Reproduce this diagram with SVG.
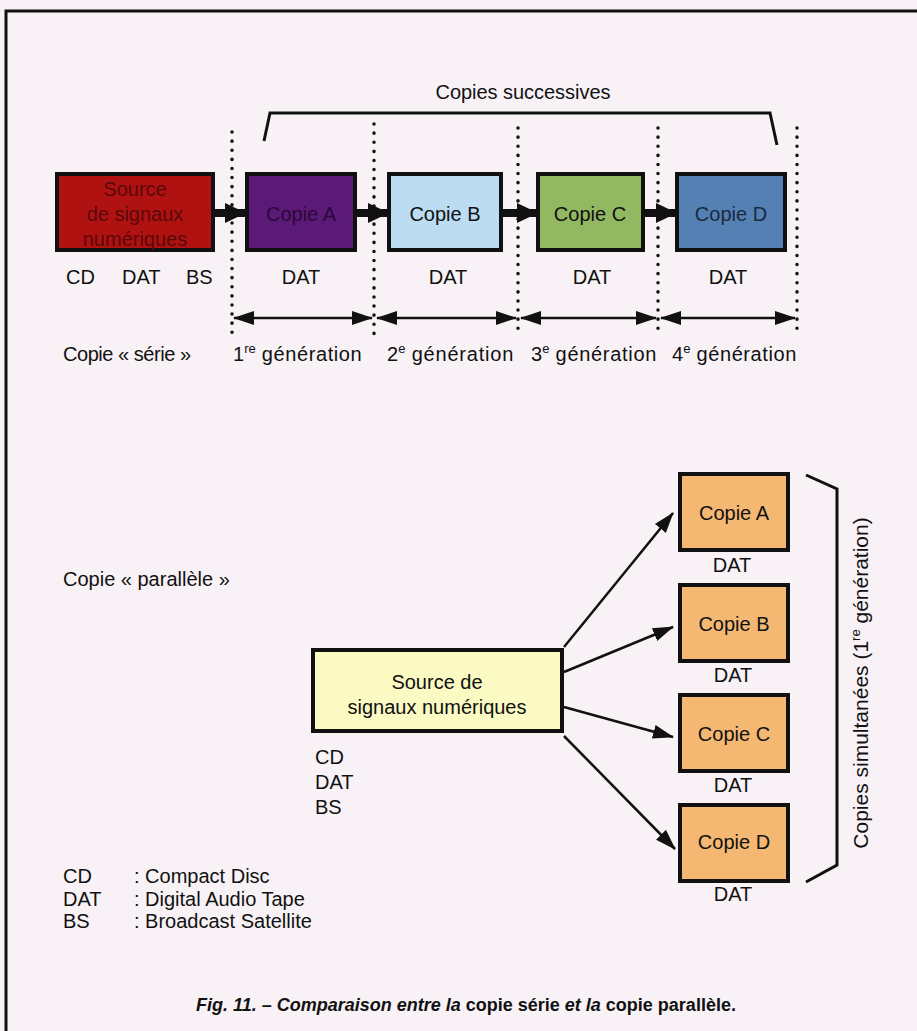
<svg xmlns="http://www.w3.org/2000/svg" width="917" height="1031" viewBox="0 0 917 1031">
<defs>
<style>
text{font-family:"Liberation Sans",Arial,sans-serif;fill:#111;}
.lbl{font-size:20px;}
.box{stroke:#111;stroke-width:4;}
.dot{stroke:#111;stroke-width:3.5;stroke-dasharray:0.1 9;stroke-linecap:round;fill:none;}
.conn{stroke:#111;stroke-width:2.5;fill:none;}
.thick{stroke:#111;stroke-width:8;fill:none;}
.brk{stroke:#111;stroke-width:3;fill:none;}
.sup{font-size:13px;}
</style>
<marker id="ah" markerUnits="userSpaceOnUse" markerWidth="22" markerHeight="16" refX="20" refY="8" orient="auto-start-reverse">
<path d="M0,1 L21,8 L0,15 z" fill="#111"/>
</marker>
<marker id="ahb" markerUnits="userSpaceOnUse" markerWidth="22" markerHeight="20" refX="20" refY="10" orient="auto">
<path d="M0,0 L21,10 L0,20 z" fill="#111"/>
</marker>
</defs>
<rect width="917" height="1031" fill="#f8f2f6"/>
<path d="M6,1031 V11 H917" fill="none" stroke="#111" stroke-width="3"/>

<text class="lbl" x="523" y="99" text-anchor="middle" textLength="175">Copies successives</text>
<path class="brk" d="M264,141 L270,113 H770 L777,145"/>

<g id="connectors">
<line class="dot" x1="232" y1="132" x2="232" y2="336"/>
<line class="dot" x1="374" y1="124" x2="374" y2="336"/>
<line class="dot" x1="518" y1="128" x2="518" y2="336"/>
<line class="dot" x1="658" y1="128" x2="658" y2="336"/>
<line class="dot" x1="797" y1="128" x2="797" y2="336"/>
<line class="thick" x1="213" y1="213" x2="245" y2="213" marker-end="url(#ahb)"/>
<line class="thick" x1="355" y1="213" x2="388" y2="213" marker-end="url(#ahb)"/>
<line class="thick" x1="501" y1="213" x2="537" y2="213" marker-end="url(#ahb)"/>
<line class="thick" x1="643" y1="213" x2="676" y2="213" marker-end="url(#ahb)"/>
<line class="conn" x1="234" y1="318" x2="372" y2="318" marker-start="url(#ah)" marker-end="url(#ah)"/>
<line class="conn" x1="377" y1="318" x2="516" y2="318" marker-start="url(#ah)" marker-end="url(#ah)"/>
<line class="conn" x1="521" y1="318" x2="656" y2="318" marker-start="url(#ah)" marker-end="url(#ah)"/>
<line class="conn" x1="661" y1="318" x2="795" y2="318" marker-start="url(#ah)" marker-end="url(#ah)"/>
<line class="conn" x1="564" y1="647" x2="673" y2="513" marker-end="url(#ah)"/>
<line class="conn" x1="564" y1="672" x2="673" y2="627" marker-end="url(#ah)"/>
<line class="conn" x1="564" y1="707" x2="673" y2="737" marker-end="url(#ah)"/>
<line class="conn" x1="564" y1="736" x2="675" y2="849" marker-end="url(#ah)"/>
</g>

<g id="src-serie">
<rect class="box" x="57" y="174" width="156" height="76" fill="#b01212"/>
<text class="lbl" x="135" y="196" text-anchor="middle" style="fill:#5a0808">Source</text>
<text class="lbl" x="135" y="221" text-anchor="middle" style="fill:#5a0808">de signaux</text>
<text class="lbl" x="135" y="246" text-anchor="middle" style="fill:#5a0808">numériques</text>
<text class="lbl" x="66" y="284">CD</text>
<text class="lbl" x="122" y="284">DAT</text>
<text class="lbl" x="186" y="284">BS</text>
</g>
<g id="serie-a">
<rect class="box" x="247" y="174" width="108" height="76" fill="#5c1a78"/>
<text class="lbl" x="301" y="221" text-anchor="middle" style="fill:#2a0838">Copie A</text>
<text class="lbl" x="301" y="284" text-anchor="middle">DAT</text>
</g>
<g id="serie-b">
<rect class="box" x="389" y="174" width="112" height="76" fill="#bcdcf2"/>
<text class="lbl" x="445" y="221" text-anchor="middle">Copie B</text>
<text class="lbl" x="448" y="284" text-anchor="middle">DAT</text>
</g>
<g id="serie-c">
<rect class="box" x="538" y="174" width="105" height="76" fill="#92b862"/>
<text class="lbl" x="590" y="221" text-anchor="middle">Copie C</text>
<text class="lbl" x="592" y="284" text-anchor="middle">DAT</text>
</g>
<g id="serie-d">
<rect class="box" x="677" y="174" width="108" height="76" fill="#5580b4"/>
<text class="lbl" x="731" y="221" text-anchor="middle" style="fill:#1a2a40">Copie D</text>
<text class="lbl" x="728" y="284" text-anchor="middle">DAT</text>
</g>

<text class="lbl" x="63" y="361" textLength="128">Copie « série »</text>
<text class="lbl" x="233" y="361">1<tspan class="sup" dy="-8">re</tspan><tspan dy="8" textLength="106"> génération</tspan></text>
<text class="lbl" x="387" y="361">2<tspan class="sup" dy="-8">e</tspan><tspan dy="8" textLength="108"> génération</tspan></text>
<text class="lbl" x="531" y="361">3<tspan class="sup" dy="-8">e</tspan><tspan dy="8" textLength="107"> génération</tspan></text>
<text class="lbl" x="672" y="361">4<tspan class="sup" dy="-8">e</tspan><tspan dy="8" textLength="106"> génération</tspan></text>

<text class="lbl" x="63" y="586">Copie « parallèle »</text>

<g id="src-par">
<rect class="box" x="313" y="650" width="249" height="81" fill="#fafac2"/>
<text class="lbl" x="437" y="689" text-anchor="middle">Source de</text>
<text class="lbl" x="437" y="714" text-anchor="middle">signaux numériques</text>
<text class="lbl" x="315" y="764">CD</text>
<text class="lbl" x="315" y="789">DAT</text>
<text class="lbl" x="315" y="814">BS</text>
</g>
<g id="par-a">
<rect class="box" x="680" y="474" width="108" height="76" fill="#f5b872"/>
<text class="lbl" x="734" y="520" text-anchor="middle">Copie A</text>
<text class="lbl" x="732" y="572" text-anchor="middle">DAT</text>
</g>
<g id="par-b">
<rect class="box" x="680" y="585" width="108" height="76" fill="#f5b872"/>
<text class="lbl" x="734" y="631" text-anchor="middle">Copie B</text>
<text class="lbl" x="733" y="682" text-anchor="middle">DAT</text>
</g>
<g id="par-c">
<rect class="box" x="680" y="695" width="108" height="76" fill="#f5b872"/>
<text class="lbl" x="734" y="741" text-anchor="middle">Copie C</text>
<text class="lbl" x="733" y="792" text-anchor="middle">DAT</text>
</g>
<g id="par-d">
<rect class="box" x="680" y="805" width="108" height="76" fill="#f5b872"/>
<text class="lbl" x="734" y="849" text-anchor="middle">Copie D</text>
<text class="lbl" x="733" y="901" text-anchor="middle">DAT</text>
</g>

<path class="brk" d="M806,475 L837,489 V865 L806,882"/>
<text class="lbl" transform="translate(868,683) rotate(-90)" text-anchor="middle" style="font-size:21px">Copies simultanées (1<tspan class="sup" dy="-8">re</tspan><tspan dy="8"> génération)</tspan></text>

<text class="lbl" x="63" y="883">CD</text>
<text class="lbl" x="134" y="883">: Compact Disc</text>
<text class="lbl" x="63" y="906">DAT</text>
<text class="lbl" x="134" y="906">: Digital Audio Tape</text>
<text class="lbl" x="63" y="928">BS</text>
<text class="lbl" x="134" y="928">: Broadcast Satellite</text>

<text x="196" y="1011" style="font-size:18px;font-weight:bold;"><tspan font-style="italic">Fig. 11. – Comparaison entre la </tspan><tspan font-weight="900">copie série</tspan><tspan font-style="italic"> et la </tspan><tspan font-weight="900">copie parallèle.</tspan></text>
</svg>
